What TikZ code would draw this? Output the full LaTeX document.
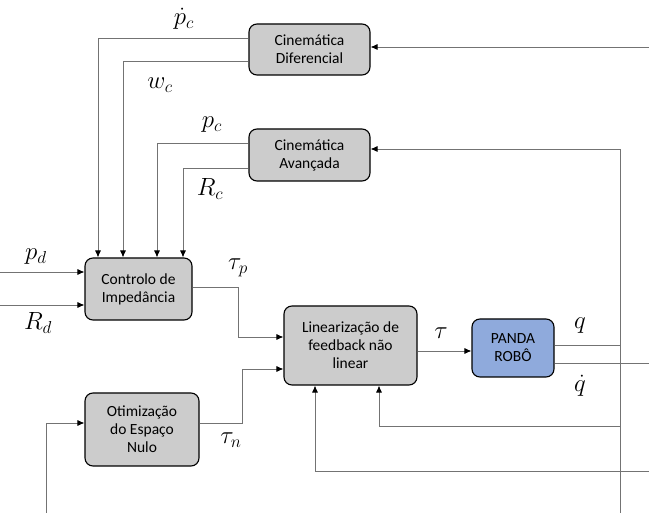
\documentclass[tikz,border=0pt]{standalone}
\usepackage{fontspec}
\setmainfont{Carlito}
\usepackage{amsmath}
\usetikzlibrary{arrows.meta}
\begin{document}
\begin{tikzpicture}[x=1pt,y=-1pt,
  block/.style={draw=black, line width=1.1pt, rounded corners=8pt, fill=black!20,
    align=center, font=\fontsize{15.5}{18}\selectfont, inner sep=0pt},
  conn/.style={draw=black!55, line width=0.8pt},
  arr/.style={conn, -{Latex[length=7pt,width=6pt,color=black]}},
  lbl/.style={font=\fontsize{23}{26}\selectfont, inner sep=1pt}]
\useasboundingbox (0,0) rectangle (649,513);

% blocks
\node[block, minimum width=121pt, minimum height=51pt] (cd) at (309.5,49.5) {Cinemática\\Diferencial};
\node[block, minimum width=121pt, minimum height=52pt] (ca) at (309.5,155) {Cinemática\\Avançada};
\node[block, minimum width=107pt, minimum height=62pt] (ctrl) at (138.5,289) {Controlo de\\Impedância};
\node[block, minimum width=133pt, minimum height=79pt] (lin) at (350.5,345.5) {Linearização de\\feedback não\\linear};
\node[block, fill={rgb,255:red,143;green,170;blue,220}, minimum width=82pt, minimum height=58pt] (robot) at (513,348) {PANDA\\ROBÔ};
\node[block, minimum width=114pt, minimum height=73pt] (null) at (142,429.5) {Otimização\\do Espaço\\Nulo};

% free ends and bends
\coordinate (inCD) at (649,47);
\coordinate (busTop) at (620,149);
\coordinate (busBot) at (620,513);
\coordinate (pdot) at (98,38);
\coordinate (wc) at (123,61);
\coordinate (pc) at (157,143);
\coordinate (rc) at (183,168);
\coordinate (pdIn) at (0,272);
\coordinate (rdIn) at (0,305);
\coordinate (taup) at (238,287);
\coordinate (taun) at (242,423);
\coordinate (qBus) at (620,345);
\coordinate (qdEnd) at (649,363);
\coordinate (fbA) at (379,426);
\coordinate (fbB) at (649,471);
\coordinate (nullIn) at (46,423);
\coordinate (nullBot) at (46,513);

% kinematics inputs
\draw[arr] (inCD) -- (inCD -| cd.east);
\draw[conn] (busBot) -- (busTop);
\draw[arr] (busTop) -- (busTop -| ca.east);

% kinematics outputs to the impedance controller
\draw[arr] (pdot -| cd.west) -- (pdot) -- (pdot |- ctrl.north);
\draw[arr] (wc -| cd.west) -- (wc) -- (wc |- ctrl.north);
\draw[arr] (pc -| ca.west) -- (pc) -- (pc |- ctrl.north);
\draw[arr] (rc -| ca.west) -- (rc) -- (rc |- ctrl.north);

% desired pose inputs
\draw[arr] (pdIn) -- (pdIn -| ctrl.west);
\draw[arr] (rdIn) -- (rdIn -| ctrl.west);

% torques into the linearization block
\draw[arr] (taup -| ctrl.east) -- (taup) -- (238,337) -- (lin.west |- 0,337);
\draw[arr] (taun -| null.east) -- (taun) -- (242,369) -- (lin.west |- 0,369);
\draw[arr] (lin.east |- 0,351) -- (robot.west |- 0,351);

% robot outputs and feedback
\draw[conn] (robot.east |- qBus) -- (qBus);
\draw[conn] (robot.east |- qdEnd) -- (qdEnd);
\draw[conn] (busTop |- fbA) -- (fbA);
\draw[arr] (fbA) -- (fbA |- lin.south);
\draw[conn] (fbB) -- (315,471);
\draw[arr] (315,471) -- (lin.south -| 315,0);

% null-space input
\draw[arr] (nullBot) -- (nullIn) -- (nullIn -| null.west);

% signal labels
\node[lbl] (lpdot) at (184,19) {$\dot p_c$};
\node[lbl] (lwc) at (160,85) {$w_c$};
\node[lbl] (lpc) at (212,125) {$p_c$};
\node[lbl] (lrc) at (210,189) {$R_c$};
\node[lbl] (lpd) at (36,257) {$p_d$};
\node[lbl] (lrd) at (38,323) {$R_d$};
\node[lbl] (ltp) at (238,268) {$\tau_p$};
\node[lbl] (ltn) at (231,440) {$\tau_n$};
\node[lbl] (ltau) at (441,333) {$\tau$};
\node[lbl] (lq) at (580,326) {$q$};
\node[lbl] (lqd) at (580,386) {$\dot q$};
\end{tikzpicture}
\end{document}
